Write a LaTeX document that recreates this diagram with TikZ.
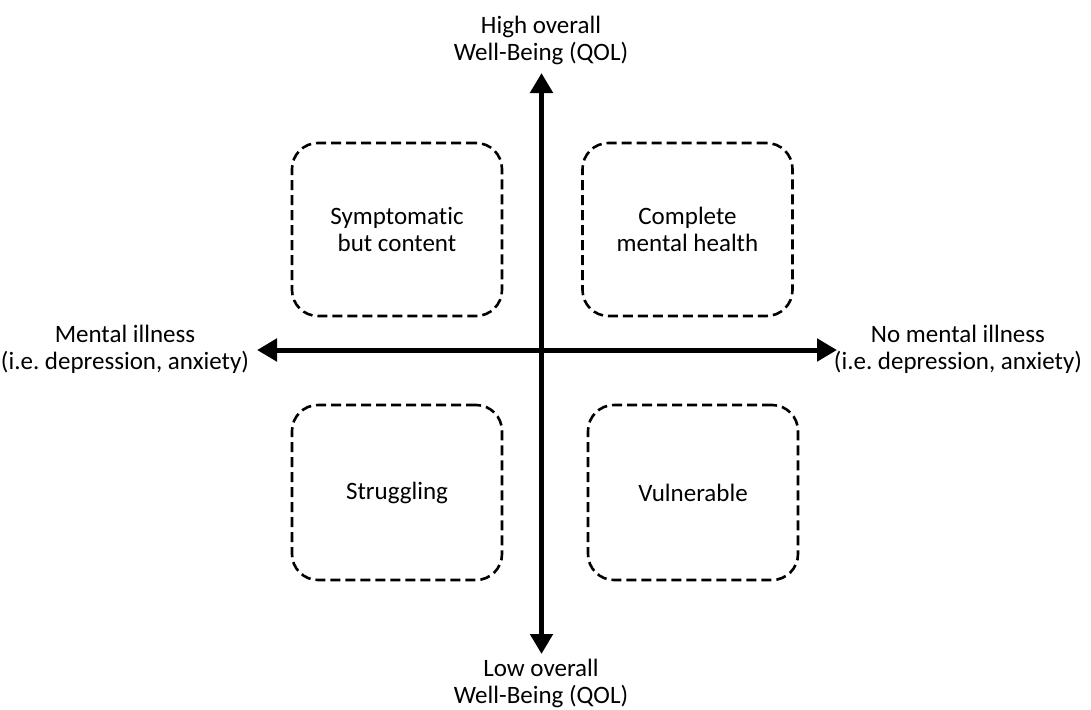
\documentclass[tikz,border=0pt]{standalone}
\usepackage{fontspec}
\setmainfont{Carlito}[Ligatures={NoCommon}]
\usetikzlibrary{arrows.meta}
\frenchspacing
\begin{document}
\begin{tikzpicture}[x=1pt,y=-1pt,
  quad/.style={draw=black, line width=2.6pt, dash pattern=on 10pt off 5pt,
    rounded corners=26pt, minimum width=210pt, inner sep=0pt},
  axis/.style={line width=5pt, -{Triangle[width=22pt,length=20pt]}},
  lbl/.style={align=center, inner sep=0pt},
  every node/.style={font=\fontsize{25}{27}\selectfont}]
\useasboundingbox (0,0) rectangle (1091,709);

% four quadrant boxes
\node[quad, minimum height=173pt, align=center] (tl) at (397,229.5) {Symptomatic\\but content};
\node[quad, minimum height=173pt, align=center] (tr) at (687.5,229.5) {Complete\\mental health};
\node[quad, minimum height=175pt] (bl) at (397,492.5) {Struggling};
\node[quad, minimum height=175pt] (br) at (693,492.5) {Vulnerable};

% axis ends and center
\coordinate (o) at (541.5,350);
\coordinate (top) at (541.5,73);
\coordinate (bot) at (541.5,654);
\coordinate (lft) at (257,350);
\coordinate (rgt) at (837,350);

\draw[axis] (o) -- (top);
\draw[axis] (o) -- (bot);
\draw[axis] (o) -- (lft);
\draw[axis] (o) -- (rgt);

% axis labels
\node[lbl] (tlab) at (541,40) {High overall\\Well-Being (QOL)};
\node[lbl] (blab) at (541,683) {Low overall\\Well-Being (QOL)};
\node[lbl] (llab) at (125,349) {Mental illness\\(i.e. depression, anxiety)};
\node[lbl] (rlab) at (958,349) {No mental illness\\(i.e. depression, anxiety)};
\end{tikzpicture}
\end{document}
